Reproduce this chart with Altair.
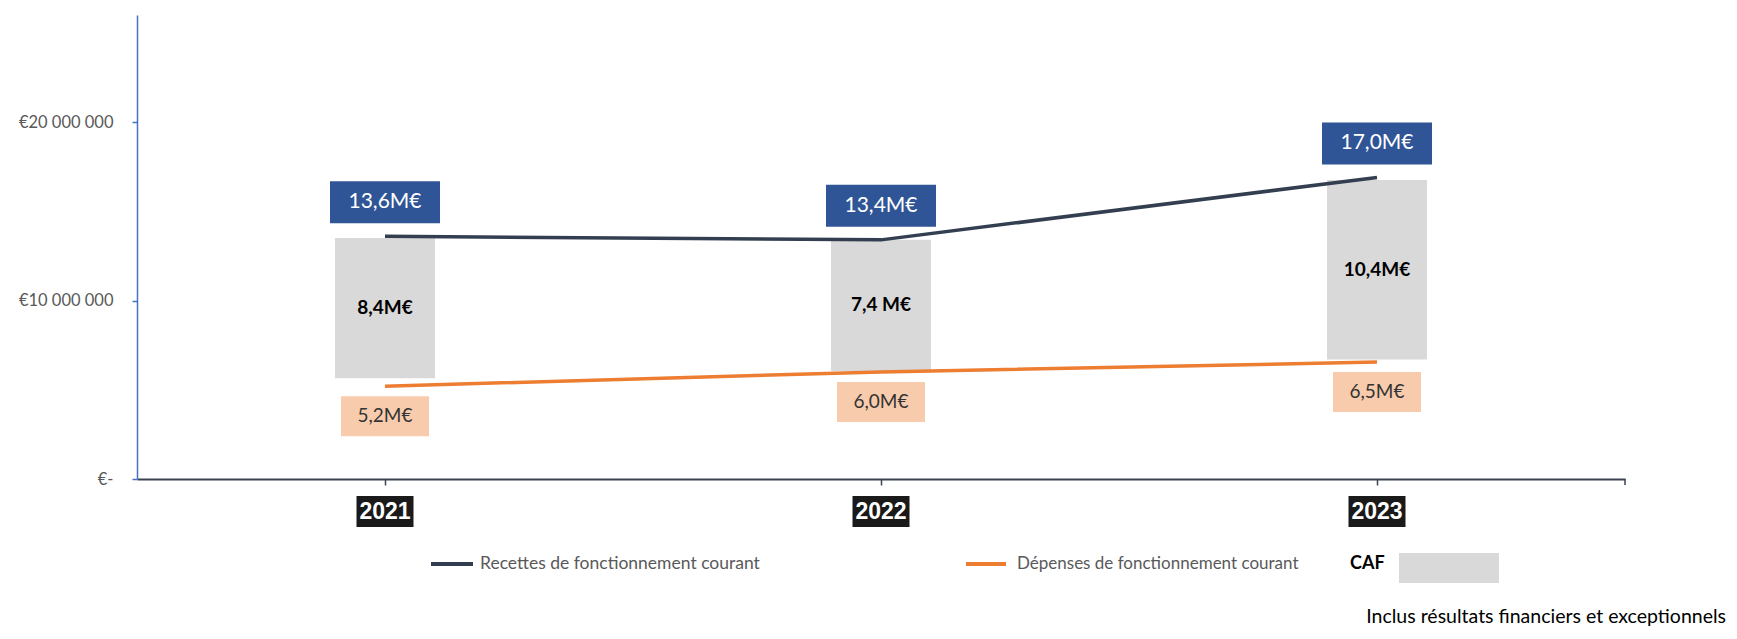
import altair as alt
import pandas as pd

# ---- data ----
years = ["2021", "2022", "2023"]
recettes = [13.6e6, 13.4e6, 16.9e6]
depenses = [5.2e6, 6.0e6, 6.55e6]
caf_low = [5.65e6, 6.05e6, 6.7e6]
caf_high = [13.5e6, 13.4e6, 16.75e6]
rec_labels = ["13,6M€", "13,4M€", "17,0M€"]
dep_labels = ["5,2M€", "6,0M€", "6,5M€"]
caf_labels = ["8,4M€", "7,4 M€", "10,4M€"]
y_ticks = [0, 10_000_000, 20_000_000]
legend_rec = "Recettes de fonctionnement courant"
legend_dep = "Dépenses de fonctionnement courant"
legend_caf = "CAF"
footnote = "Inclus résultats financiers et exceptionnels"

W, H = 1488, 464
FONT = "Lato"
NAVY = "#333F50"
ORANGE = "#ED7D31"
GRAY = "#D9D9D9"
BLUE_BOX = "#2F5597"
ORANGE_BOX = "#F8CBAD"

df = pd.DataFrame({
    "year": years,
    "rec": recettes,
    "dep": depenses,
    "low": caf_low,
    "high": caf_high,
    "rec_lab": rec_labels,
    "dep_lab": dep_labels,
    "caf_lab": caf_labels,
})
df["mid"] = (df["low"] + df["high"]) / 2

x_enc = alt.X(
    "year:N",
    sort=years,
    scale=alt.Scale(paddingInner=0, paddingOuter=0),
    axis=alt.Axis(
        title=None, labels=False, domainColor="#3B4352", domainWidth=2,
        tickColor="#3B4352", tickSize=6, tickWidth=1.5,
    ),
)
y_scale = alt.Scale(domain=[0, 26_000_000], nice=False, zero=True)
y_axis = alt.Axis(
    title=None, values=y_ticks, grid=False,
    domainColor="#4472C4", domainWidth=1.5,
    tickColor="#4472C4", tickSize=5, tickWidth=1.5,
    labelPadding=19, labelFontSize=16.5, labelColor="#595959", labelFont=FONT,
    labelExpr="datum.value == 0 ? '€-' : '€' + format(datum.value / 1000000, 'd') + ' 000 000'",
)

base = alt.Chart(df)

caf_bars = base.mark_bar(width=100, color=GRAY).encode(
    x=x_enc,
    y=alt.Y("low:Q", scale=y_scale, axis=y_axis),
    y2="high:Q",
)

line_rec = base.mark_line(color=NAVY, strokeWidth=3.5).encode(
    x=alt.X("year:N", sort=years), y=alt.Y("rec:Q")
)
line_dep = base.mark_line(color=ORANGE, strokeWidth=3.5).encode(
    x=alt.X("year:N", sort=years), y=alt.Y("dep:Q")
)

blue_boxes = base.mark_bar(width=110, color=BLUE_BOX, yOffset=-55, y2Offset=-13).encode(
    x=alt.X("year:N", sort=years), y="rec:Q", y2="rec:Q"
)
blue_text = base.mark_text(color="white", font=FONT, fontSize=21, dy=-34, baseline="middle").encode(
    x=alt.X("year:N", sort=years), y="rec:Q", text="rec_lab:N"
)

orange_boxes = base.mark_bar(width=88, color=ORANGE_BOX, yOffset=10, y2Offset=50).encode(
    x=alt.X("year:N", sort=years), y="dep:Q", y2="dep:Q"
)
orange_text = base.mark_text(color="#333333", font=FONT, fontSize=19, dy=30, baseline="middle").encode(
    x=alt.X("year:N", sort=years), y="dep:Q", text="dep_lab:N"
)

caf_text = base.mark_text(color="black", font=FONT, fontSize=19, fontWeight="bold", baseline="middle").encode(
    x=alt.X("year:N", sort=years), y="mid:Q", text="caf_lab:N"
)

# year labels (white on black) below the axis
year_boxes = base.mark_bar(width=57, color="#1A1A1A").encode(
    x=alt.X("year:N", sort=years), y=alt.value(H + 17), y2=alt.value(H + 48)
)
year_text = base.mark_text(color="white", font="Liberation Sans", fontSize=23, fontWeight="bold",
                           baseline="middle").encode(
    x=alt.X("year:N", sort=years), y=alt.value(H + 33), text="year:N"
)

# end tick on the right of the x axis
end_tick = alt.Chart(pd.DataFrame({"k": [0]})).mark_rule(color="#3B4352", strokeWidth=1.5).encode(
    x=alt.value(W), y=alt.value(H), y2=alt.value(H + 6)
)

# legend
leg = pd.DataFrame({"rec": [legend_rec], "dep": [legend_dep], "caf": [legend_caf], "foot": [footnote]})
lb = alt.Chart(leg)
LY = 549
leg_line1 = lb.mark_rule(color=NAVY, strokeWidth=4).encode(
    x=alt.value(294), x2=alt.value(336), y=alt.value(LY)
)
leg_text1 = lb.mark_text(align="left", baseline="middle", font=FONT, fontSize=17.5, color="#595959").encode(
    x=alt.value(343), y=alt.value(LY), text="rec:N"
)
leg_line2 = lb.mark_rule(color=ORANGE, strokeWidth=4).encode(
    x=alt.value(829), x2=alt.value(869), y=alt.value(LY)
)
leg_text2 = lb.mark_text(align="left", baseline="middle", font=FONT, fontSize=17, color="#595959").encode(
    x=alt.value(880), y=alt.value(LY), text="dep:N"
)
leg_caf = lb.mark_text(align="left", baseline="middle", font=FONT, fontSize=18, fontWeight="bold",
                       color="black").encode(
    x=alt.value(1213), y=alt.value(LY), text="caf:N"
)
leg_box = lb.mark_bar(color=GRAY).encode(
    x=alt.value(1262), x2=alt.value(1362), y=alt.value(538), y2=alt.value(568)
)
foot = lb.mark_text(align="right", baseline="alphabetic", font=FONT, fontSize=19.5, color="black").encode(
    x=alt.value(1589), y=alt.value(608), text="foot:N"
)

chart = alt.layer(
    caf_bars, line_rec, line_dep, blue_boxes, blue_text, orange_boxes, orange_text,
    caf_text, year_boxes, year_text, end_tick,
    leg_line1, leg_text1, leg_line2, leg_text2, leg_caf, leg_box, foot,
).properties(
    width=W, height=H,
    autosize=alt.AutoSizeParams(type="none"),
    padding={"left": 129, "top": 7, "right": 104, "bottom": 152},
).configure_view(stroke=None)

chart.save("out.html", embed_options={"renderer": "svg", "actions": False})
